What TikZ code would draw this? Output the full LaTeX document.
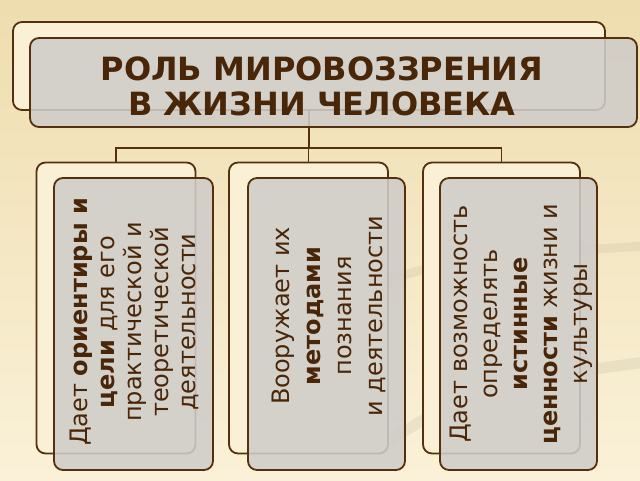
\documentclass[tikz,border=0pt]{standalone}
\usepackage{fontspec}
\setmainfont{DejaVu Sans}
\usetikzlibrary{calc}
\definecolor{bgtop}{HTML}{EEDDAE}
\definecolor{bgbot}{HTML}{FAF1D8}
\definecolor{cream}{HTML}{FAF0D6}
\definecolor{brownline}{HTML}{55300F}
\definecolor{browntext}{HTML}{4A2608}
\definecolor{grayfill}{HTML}{CFCCC9}
\definecolor{swoosh}{HTML}{9A9480}
\begin{document}
\begin{tikzpicture}[x=1pt,y=-1pt,
  backbox/.style={draw=brownline, line width=1.8pt, fill=cream, rounded corners=9pt, inner sep=0pt},
  frontbox/.style={draw=brownline, line width=1.8pt, fill=grayfill, fill opacity=0.88, rounded corners=9pt, inner sep=0pt},
  conn/.style={draw=brownline, line width=1.3pt},
  boxtext/.style={rotate=90, align=center, text=browntext, inner sep=0pt},
  titletext/.style={align=center, text=browntext, inner sep=0pt, font=\bfseries\fontsize{32}{35}\selectfont}
]
\useasboundingbox (0,0) rectangle (640,480);
\shade[top color=bgtop, bottom color=bgbot] (0,0) rectangle (640,480);
% faint background swooshes
\draw[swoosh, opacity=0.14, line width=9pt, line cap=round] (330,300) .. controls (450,258) .. (645,246);
\draw[swoosh, opacity=0.14, line width=11pt, line cap=round] (390,440) .. controls (480,385) .. (645,362);

% title
\node[backbox, minimum width=592pt, minimum height=88pt] (tb) at (309,66) {};
\coordinate (hub) at (309,148);
\node[backbox, minimum width=159pt, minimum height=291pt] (b1) at (116,308) {};
\node[backbox, minimum width=159pt, minimum height=291pt] (b2) at (308.5,308) {};
\node[backbox, minimum width=157pt, minimum height=291pt] (b3) at (501.5,308) {};
\draw[conn] (tb.south) -- (hub);
\draw[conn] (b1.north) |- (hub) -| (b3.north);
\draw[conn] (b2.north) -- (b2.north |- hub);

\node[frontbox, minimum width=607pt, minimum height=89pt] (tf) at (333.5,82.5) {};
\node[titletext] (tt) at (322,86.5) {РОЛЬ МИРОВОЗЗРЕНИЯ\\В ЖИЗНИ ЧЕЛОВЕКА};

\node[frontbox, minimum width=159pt, minimum height=292pt] (f1) at (133.5,324) {};
\node[frontbox, minimum width=157pt, minimum height=292pt] (f2) at (326.5,324) {};
\node[frontbox, minimum width=157pt, minimum height=292pt] (f3) at (518.5,324) {};

\node[boxtext, font=\fontsize{24}{27}\selectfont] (t1) at ($(f1.center)+(1,-2)$)
  {Дает \textbf{ориентиры и}\\\textbf{цели} для его\\практической и\\теоретической\\деятельности};
\node[boxtext, font=\fontsize{24}{31}\selectfont] (t2) at ($(f2.center)+(2,-8)$)
  {Вооружает их\\\textbf{методами}\\познания\\и деятельности};
\node[boxtext, font=\fontsize{24}{30}\selectfont] (t3) at ($(f3.center)+(3,0)$)
  {Дает возможность\\определять\\\textbf{истинные}\\\textbf{ценности} жизни и\\культуры};
\end{tikzpicture}
\end{document}
